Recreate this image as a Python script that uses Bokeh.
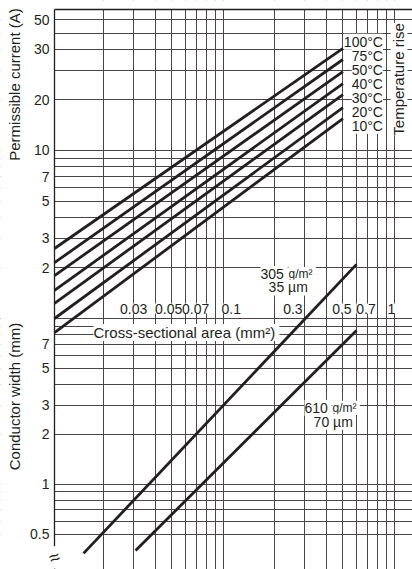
from math import pi
from bokeh.plotting import figure
from bokeh.models import (Range1d, LogScale, LabelSet, Label, ColumnDataSource, BoxAnnotation)
from bokeh.core.properties import value
from bokeh.embed import file_html
from bokeh.resources import INLINE

INK = "#231f20"
GRID = "#4a4546"
FONT = "Liberation Sans"

# ---- chart extents ----
area_lo = 0.010356                     # left axis position (mm^2)
current_top = 69.08                    # top border (A)
frame_area = (0.0050113, 1.2738)       # visible area range across the whole canvas
frame_current = (0.032063, 78.13)      # permissible current (A) across the canvas height
frame_width = (0.30624, 827.9)         # conductor width (mm) across the canvas height

# ---- grid values ----
area_grid = [0.02, 0.03, 0.04, 0.05, 0.06, 0.07, 0.08, 0.09,
             0.1, 0.2, 0.3, 0.4, 0.5, 0.6, 0.7, 0.8, 0.9, 1.0]
current_grid = [1, 2, 3, 4, 5, 6, 7, 8, 9, 10, 20, 30, 40, 50, 60]
width_grid = [0.5, 0.6, 0.7, 0.8, 0.9, 1, 2, 3, 4, 5, 6, 7, 8, 9, 10]

# ---- tick labels ----
area_ticks = [0.03, 0.05, 0.07, 0.1, 0.3, 0.5, 0.7, 1.0]
area_tick_labels = ["0.03", "0.05", "0.07", "0.1", "0.3", "0.5", "0.7", "1"]
current_ticks = [2, 3, 5, 7, 10, 20, 40, 60]
current_tick_labels = ["2", "3", "5", "7", "10", "20", "30", "50"]
width_ticks = [0.5, 1, 2, 3, 5, 7]
width_tick_labels = ["0.5", "1", "2", "3", "5", "7"]

# ---- temperature-rise lines (current vs area) ----
temp_labels = ["100°C", "75°C", "50°C", "40°C", "30°C", "20°C", "10°C"]
temp_area = [0.010356, 0.5]
temp_current_start = [2.61, 2.15, 1.80, 1.47, 1.23, 1.00, 0.825]
temp_current_end = [40.5, 34.8, 29.5, 25.0, 21.5, 18.0, 15.5]

# ---- copper foil lines (width vs area) ----
foil_weight = ["305", "610"]
foil_thickness = ["35 µm", "70 µm"]
foil_area_start = [0.0153, 0.0308]
foil_area_end = [0.6, 0.6]
foil_width_start = [0.383, 0.399]
foil_width_end = [21.2, 8.47]

# ---- style-only lists (pixel offsets) ----
area_label_dx = [0, -3, -1, 8, -12, -1, -2, -3]
foil_weight_dx = [-96, -52]
foil_unit_dx = [-68, -24]
foil_line1_dy = [-9.6, -77.4]
foil_thick_dx = [-68.3, -23.3]
foil_line2_dy = [-23.1, -91.4]

p = figure(width=412, height=569, x_axis_type="log", y_axis_type="log",
           x_range=Range1d(*frame_area), y_range=Range1d(*frame_current),
           x_axis_location=None, y_axis_location=None,
           output_backend="svg", toolbar_location=None, title=None)
p.extra_y_ranges = {"width": Range1d(*frame_width)}
p.extra_y_scales = {"width": LogScale()}
p.min_border = 0
p.min_border_left = 0
p.min_border_right = 0
p.min_border_top = 0
p.min_border_bottom = 0
p.outline_line_color = None
p.background_fill_color = "white"
p.border_fill_color = "white"
p.grid.visible = False

# grid lines
gk = dict(line_color=GRID, line_width=1, level="underlay")
p.vspan(x=area_grid, **gk)
p.hspan(y=current_grid, **gk)
p.hspan(y=width_grid, y_range_name="width", **gk)

# blank margins outside the chart (left of the axis, above the top border)
p.add_layout(BoxAnnotation(right=area_lo, fill_color="white", fill_alpha=1, line_color=None, level="underlay"))
p.add_layout(BoxAnnotation(bottom=current_top, fill_color="white", fill_alpha=1, line_color=None, level="underlay"))

# axis line and top border
p.segment(x0=[area_lo], y0=[frame_current[0]], x1=[area_lo], y1=[current_top], line_color=INK, line_width=1.3)
p.segment(x0=[area_lo], y0=[current_top], x1=[frame_area[1]], y1=[current_top], line_color=INK, line_width=1.5)

# data lines
p.multi_line(xs=[temp_area] * len(temp_labels),
             ys=[[s, e] for s, e in zip(temp_current_start, temp_current_end)],
             line_color=INK, line_width=2.8, line_cap="butt")
p.multi_line(xs=[[a, b] for a, b in zip(foil_area_start, foil_area_end)],
             ys=[[s, e] for s, e in zip(foil_width_start, foil_width_end)],
             y_range_name="width", line_color=INK, line_width=2.8, line_cap="butt")

common = dict(text_font=value(FONT), text_font_size=value("14px"), text_color=INK)

# x tick labels along the divider
p.add_layout(LabelSet(source=ColumnDataSource(dict(x=area_ticks, y=[current_grid[0]] * len(area_ticks),
                                                   t=area_tick_labels, dx=area_label_dx)),
                      x="x", y="y", text="t", x_offset="dx", y_offset=10,
                      text_align="center", text_baseline="middle",
                      background_fill_color="white", **common))

# current tick labels on the left
p.add_layout(LabelSet(source=ColumnDataSource(dict(x=[area_lo] * len(current_ticks), y=current_ticks,
                                                   t=current_tick_labels)),
                      x="x", y="y", text="t", x_offset=-5,
                      text_align="right", text_baseline="middle", **common))

# width tick labels on the left
p.add_layout(LabelSet(source=ColumnDataSource(dict(x=[area_lo] * len(width_ticks), y=width_ticks,
                                                   t=width_tick_labels)),
                      x="x", y="y", text="t", x_offset=-5, y_range_name="width",
                      text_align="right", text_baseline="middle", **common))

# temperature labels stacked at the line ends
n = len(temp_labels)
mid = n // 2
p.add_layout(LabelSet(source=ColumnDataSource(dict(x=[temp_area[1]] * n, y=[temp_current_end[mid]] * n,
                                                   t=temp_labels, dy=[(mid - i) * 14 for i in range(n)])),
                      x="x", y="y", text="t", x_offset=40, y_offset="dy",
                      text_align="right", text_baseline="middle",
                      background_fill_color="white", **common))

def lab(**kw):
    base = dict(text_font=FONT, text_font_size="15px", text_color=INK)
    base.update(kw)
    p.add_layout(Label(**base))

lab(x=area_lo, y=24.7, x_offset=-40, angle=pi / 2, text="Permissible current (A)",
    text_align="center", text_baseline="middle")
lab(x=area_lo, y=3.385, y_range_name="width", x_offset=-40, angle=pi / 2, text="Conductor width (mm)",
    text_align="center", text_baseline="middle")
lab(x=area_grid[-1], y=26.5, x_offset=4.5, angle=pi / 2, text="Temperature rise",
    text_align="center", text_baseline="middle", background_fill_color="white")
lab(x=area_lo, y=current_grid[0], x_offset=39, y_offset=-14, text="Cross-sectional area (mm²) ",
    text_align="left", text_baseline="middle", background_fill_color="white")
lab(x=area_lo, y=0.362, y_range_name="width", text="≈", text_font_size="19px",
    text_align="center", text_baseline="middle", angle=0.35, background_fill_color="white")

for i in range(len(foil_weight)):
    lab(x=foil_area_end[i], y=foil_width_end[i], y_range_name="width", text_font_size="14px",
        x_offset=foil_weight_dx[i], y_offset=foil_line1_dy[i], text=foil_weight[i] + " ",
        text_align="left", text_baseline="alphabetic", background_fill_color="white")
    lab(x=foil_area_end[i], y=foil_width_end[i], y_range_name="width", text_font_size="12px",
        x_offset=foil_unit_dx[i], y_offset=foil_line1_dy[i], text="g/m² ",
        text_align="left", text_baseline="alphabetic", background_fill_color="white")
    lab(x=foil_area_end[i], y=foil_width_end[i], y_range_name="width", text_font_size="14px",
        x_offset=foil_thick_dx[i], y_offset=foil_line2_dy[i], text=foil_thickness[i],
        text_align="center", text_baseline="alphabetic", background_fill_color="white")

open("out.html", "w").write(file_html(p, INLINE))
